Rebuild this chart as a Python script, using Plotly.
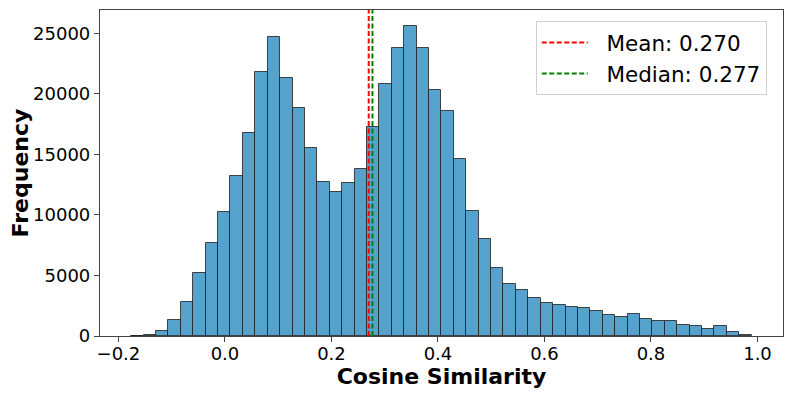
import numpy as np
import plotly.graph_objects as go

# histogram of cosine similarity, 50 bins
bin_lo = -0.176
bin_hi = 0.989
counts = [30, 90, 410, 1290, 2800, 5170, 7650, 10230, 13230, 16800,
          21840, 24720, 21310, 18870, 15510, 12760, 11910, 12650, 13780, 17240,
          20850, 23820, 25630, 23820, 20300, 18560, 14580, 10310, 8030, 5640,
          4320, 3820, 3110, 2700, 2530, 2370, 2280, 2060, 1700, 1600,
          1790, 1375, 1265, 1240, 880, 800, 605, 800, 300, 110]
mean_val = 0.270
median_val = 0.277

edges = np.linspace(bin_lo, bin_hi, len(counts) + 1)
centers = (edges[:-1] + edges[1:]) / 2
width = edges[1] - edges[0]

y_top = 26925
font = "DejaVu Sans"
pad = "&nbsp;&nbsp;"  # gap between legend line and label

fig = go.Figure()
fig.add_trace(go.Bar(
    x=centers, y=counts, width=width,
    marker=dict(color="rgb(85,163,204)",
                line=dict(color="rgba(30,30,30,0.8)", width=1)),
    showlegend=False, hoverinfo="skip"
))
fig.add_trace(go.Scatter(
    x=[mean_val, mean_val], y=[0, y_top], mode="lines",
    line=dict(color="red", width=2, dash="5px,2.5px"),
    name=pad + f"Mean: {mean_val:.3f}"
))
fig.add_trace(go.Scatter(
    x=[median_val, median_val], y=[0, y_top], mode="lines",
    line=dict(color="green", width=2, dash="5px,2.5px"),
    name=pad + f"Median: {median_val:.3f}"
))

axis_common = dict(
    showline=True, linecolor="#444", linewidth=1.2, mirror=True,
    ticks="outside", ticklen=5, tickcolor="#444", showgrid=False, zeroline=False,
    tickfont=dict(family=font, size=18, color="black"), automargin=False,
)

# page body keeps its 8px default margin, so the figure is trimmed by 8px
fig.update_layout(
    width=785, height=389,
    margin=dict(l=92, r=10, t=2, b=61),
    plot_bgcolor="white", paper_bgcolor="white",
    bargap=0,
    font=dict(family=font, color="black"),
    xaxis=dict(range=[-0.2346, 1.0479], tickvals=[-0.2, 0.0, 0.2, 0.4, 0.6, 0.8, 1.0],
               tickformat=".1f", ticklabelstandoff=-4,
               title=dict(text="<b>Cosine Similarity</b>", font=dict(family=font, size=22),
                          standoff=0),
               **axis_common),
    yaxis=dict(range=[0, y_top], tickvals=[0, 5000, 10000, 15000, 20000, 25000],
               tickformat="d",
               title=dict(text="<b>Frequency</b>", font=dict(family=font, size=22),
                          standoff=8),
               **axis_common),
    legend=dict(x=0.638, y=0.966, xanchor="left", yanchor="top",
                bgcolor="white", bordercolor="#d0d0d0", borderwidth=1,
                font=dict(family=font, size=21.5), itemwidth=46,
                tracegroupgap=0),
)

fig.write_html("out.html")
